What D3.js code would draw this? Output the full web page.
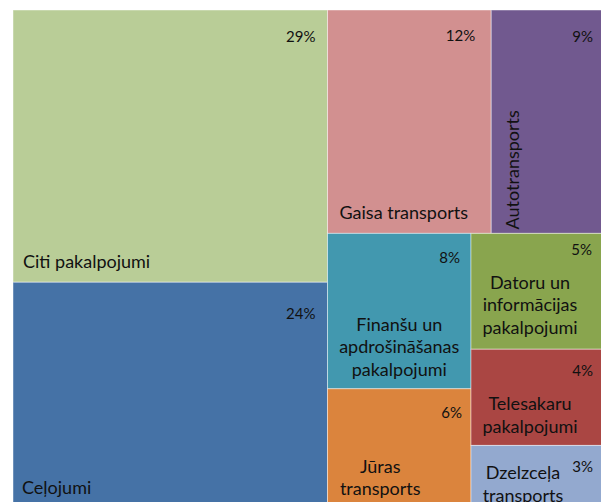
<!DOCTYPE html>
<html>
<head>
<meta charset="utf-8">
<script src="https://cdn.jsdelivr.net/npm/d3@7"></script>
<style>
  html, body { margin: 0; padding: 0; background: #fff; }
  svg { display: block; }
  text { font-family: Lato, "Open Sans", sans-serif; fill: #111; }
</style>
</head>
<body>
<div id="chart"></div>
<script>
// ---- data ----
const categories = [
  "Citi pakalpojumi",
  "Ceļojumi",
  "Gaisa transports",
  "Autotransports",
  "Finanšu un apdrošināšanas pakalpojumi",
  "Jūras transports",
  "Datoru un informācijas pakalpojumi",
  "Telesakaru pakalpojumi",
  "Dzelzceļa transports"
];
// shares in % (estimated from the areas; labels shown rounded)
const values = [28.8, 24.2, 12.3, 8.7, 7.5, 5.9, 5.3, 4.4, 3.0];
const colors = ["#B9CD97", "#4572A6", "#D29090", "#71598F", "#4298AF", "#DB843D", "#89A54E", "#AA4643", "#93A9CF"];

// ---- label placement (style, not data) ----
const nameCfg = [
  {mode: "bl", dx: 10, dy: -14},
  {mode: "bl", dx: 9, dy: -17},
  {mode: "bl", dx: 12, dy: -14},
  {mode: "rot", dx: 28, dy: -4},
  {mode: "c", dx: 0, dy: 35},
  {mode: "c", dx: -19, dy: 27},
  {mode: "c", dx: -9, dy: 13},
  {mode: "c", dx: -9, dy: 17},
  {mode: "c", dx: -16, dy: 5.5}
];
const pctCfg = [
  {pad: 12, cy: 26}, {pad: 12, cy: 31}, {pad: 16, cy: 25}, {pad: 14, cy: 26},
  {pad: 11, cy: 24}, {pad: 9, cy: 23}, {pad: 15, cy: 16}, {pad: 14, cy: 21}, {pad: 14, cy: 21}
];

const W = 601, H = 502;
const X0 = 13, Y0 = 10, TW = 594, TH = 501;

const svg = d3.select("#chart").append("svg").attr("width", W).attr("height", H);

const root = d3.hierarchy({children: categories.map((c, i) => ({name: c, value: values[i], idx: i}))})
  .sum(d => d.value || 0)
  .sort((a, b) => b.value - a.value);

d3.treemap().tile(d3.treemapSquarify.ratio(1)).size([TW, TH])(root);

const g = svg.append("g").attr("transform", `translate(${X0},${Y0})`);

const cells = g.selectAll("g.cell").data(root.leaves()).join("g").attr("class", "cell");

cells.append("rect")
  .attr("x", d => d.x0).attr("y", d => d.y0)
  .attr("width", d => d.x1 - d.x0).attr("height", d => d.y1 - d.y0)
  .attr("fill", d => colors[d.data.idx])
  .attr("stroke", "rgba(255,255,255,0.45)")
  .attr("stroke-width", 1);

function wrap(name) {
  const words = name.split(" ");
  const lines = [];
  words.forEach(w => {
    if (w === "un" && lines.length) lines[lines.length - 1] += " " + w;
    else lines.push(w);
  });
  return lines;
}

const fs = 18, lh = 22.5;
cells.each(function(d) {
  const sel = d3.select(this);
  const i = d.data.idx;
  const cfg = nameCfg[i];
  if (cfg.mode === "bl") {
    sel.append("text").attr("x", d.x0 + cfg.dx).attr("y", d.y1 + cfg.dy)
      .attr("font-size", fs).text(d.data.name);
  } else if (cfg.mode === "rot") {
    const x = d.x0 + cfg.dx, y = d.y1 + cfg.dy;
    sel.append("text").attr("transform", `translate(${x},${y}) rotate(-90)`)
      .attr("font-size", fs).text(d.data.name);
  } else {
    const lines = wrap(d.data.name);
    const cx = (d.x0 + d.x1) / 2 + cfg.dx;
    const cy = (d.y0 + d.y1) / 2 + cfg.dy;
    const t = sel.append("text").attr("text-anchor", "middle").attr("font-size", fs);
    lines.forEach((ln, k) => {
      t.append("tspan").attr("x", cx)
        .attr("y", cy + (k - (lines.length - 1) / 2) * lh)
        .attr("dominant-baseline", "central")
        .text(ln);
    });
  }
  const p = pctCfg[i];
  sel.append("text")
    .attr("x", d.x1 - p.pad).attr("y", d.y0 + p.cy)
    .attr("text-anchor", "end").attr("dominant-baseline", "central")
    .attr("font-size", 15)
    .text(Math.round(d.data.value) + "%");
});
</script>
</body>
</html>
